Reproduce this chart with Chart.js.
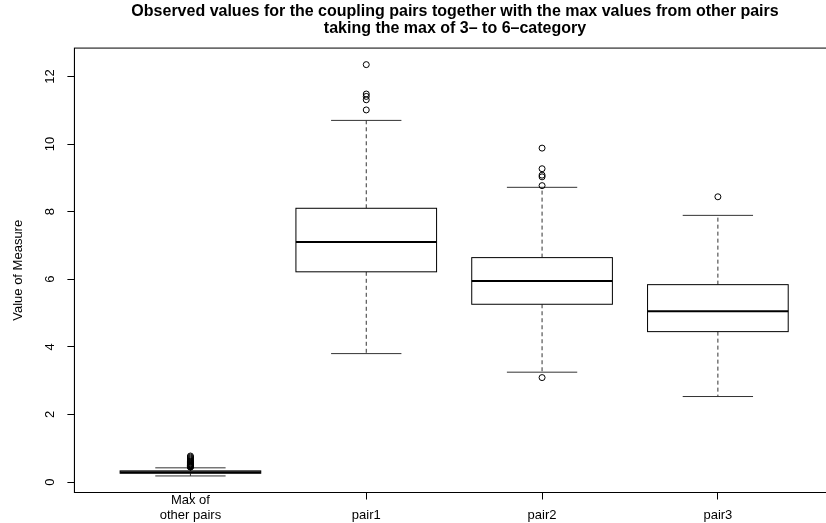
<!DOCTYPE html>
<html>
<head>
<meta charset="utf-8">
<script src="https://cdn.jsdelivr.net/npm/chart.js@4/dist/chart.umd.min.js"></script>
<style>
  html, body { margin: 0; padding: 0; background: #fff; overflow: hidden; }
  #wrap { width: 826px; height: 523px; overflow: hidden; }
</style>
</head>
<body>
<div id="wrap"><canvas id="c" width="910" height="523"></canvas></div>
<script>
// categories along the x axis
var categories = ['Max of\nother pairs', 'pair1', 'pair2', 'pair3'];

// five-number summaries
var lowerWhisker = [0.18, 3.80, 3.25, 2.53];
var q1           = [0.26, 6.22, 5.26, 4.45];
var median       = [0.29, 7.10, 5.95, 5.05];
var q3           = [0.33, 8.10, 6.64, 5.84];
var upperWhisker = [0.42, 10.70, 8.72, 7.89];

// outliers per category
var outliers = [
  [0.44, 0.45, 0.46, 0.47, 0.48, 0.49, 0.50, 0.51, 0.53, 0.54, 0.56, 0.58, 0.60, 0.62, 0.65, 0.68, 0.71, 0.74, 0.77],
  [12.35, 11.48, 11.41, 11.31, 11.01],
  [9.88, 9.27, 9.08, 9.03, 8.77, 3.09],
  [8.44]
];

var yTicks = [0, 2, 4, 6, 8, 10, 12];

var FONT = "'Liberation Sans', Arial, Helvetica, sans-serif";

var outlierPoints = [];
outliers.forEach(function (arr, i) {
  arr.forEach(function (v) { outlierPoints.push({ x: i + 1, y: v }); });
});

// draws boxes, whiskers and medians with the chart's scales
var boxPlugin = {
  id: 'boxes',
  beforeDatasetsDraw: function (chart) {
    var ctx = chart.ctx;
    var xs = chart.scales.x, ys = chart.scales.y;
    var boxHalf = xs.getPixelForValue(1.4) - xs.getPixelForValue(1);
    var capHalf = xs.getPixelForValue(1.2) - xs.getPixelForValue(1);
    ctx.save();
    ctx.strokeStyle = '#000';
    for (var i = 0; i < categories.length; i++) {
      var x = xs.getPixelForValue(i + 1);
      var yLo = ys.getPixelForValue(lowerWhisker[i]);
      var yQ1 = ys.getPixelForValue(q1[i]);
      var yMed = ys.getPixelForValue(median[i]);
      var yQ3 = ys.getPixelForValue(q3[i]);
      var yHi = ys.getPixelForValue(upperWhisker[i]);

      // whiskers
      ctx.lineWidth = 1;
      ctx.strokeStyle = '#333';
      ctx.setLineDash([4, 3]);
      ctx.beginPath();
      ctx.moveTo(x, yQ3); ctx.lineTo(x, yHi);
      ctx.moveTo(x, yQ1); ctx.lineTo(x, yLo);
      ctx.stroke();
      ctx.setLineDash([]);

      // caps
      ctx.beginPath();
      ctx.moveTo(x - capHalf, yHi); ctx.lineTo(x + capHalf, yHi);
      ctx.moveTo(x - capHalf, yLo); ctx.lineTo(x + capHalf, yLo);
      ctx.stroke();

      // box
      ctx.strokeStyle = '#000';
      ctx.fillStyle = '#fff';
      ctx.fillRect(x - boxHalf, yQ3, boxHalf * 2, yQ1 - yQ3);
      ctx.strokeRect(x - boxHalf, yQ3, boxHalf * 2, yQ1 - yQ3);

      // median
      ctx.lineWidth = 2;
      ctx.beginPath();
      ctx.moveTo(x - boxHalf, yMed); ctx.lineTo(x + boxHalf, yMed);
      ctx.stroke();
    }
    ctx.restore();
  },
  afterDraw: function (chart) {
    var a = chart.chartArea, ctx = chart.ctx;
    ctx.save();
    ctx.strokeStyle = '#000';
    ctx.lineWidth = 1;
    ctx.strokeRect(a.left, a.top, a.right - a.left, a.bottom - a.top);
    ctx.restore();
  }
};

new Chart(document.getElementById('c'), {
  type: 'scatter',
  data: {
    datasets: [{
      data: outlierPoints,
      pointStyle: 'circle',
      pointRadius: 3,
      pointHoverRadius: 3,
      borderWidth: 1,
      borderColor: '#000',
      backgroundColor: 'rgba(0,0,0,0)'
    }]
  },
  options: {
    responsive: false,
    animation: false,
    layout: { padding: 0 },
    plugins: {
      legend: { display: false },
      tooltip: { enabled: false },
      title: {
        display: true,
        text: ['Observed values for the coupling pairs together with the max values from other pairs',
               'taking the max of 3\u2013 to 6\u2013category'],
        color: '#000',
        font: { family: FONT, size: 16, weight: 'bold', lineHeight: 1.04 },
        padding: { top: 3.4, bottom: 11.4 }
      }
    },
    scales: {
      x: {
        type: 'linear',
        min: 0.34,
        max: 5.07,
        afterBuildTicks: function (scale) {
          scale.ticks = categories.map(function (c, i) { return { value: i + 1 }; });
        },
        afterFit: function (scale) { scale.height = 30.5; },
        grid: { drawOnChartArea: false, drawTicks: true, tickLength: 7, tickColor: '#000', tickWidth: 1 },
        border: { display: true, color: '#000', width: 1 },
        ticks: {
          color: '#000',
          padding: -7,
          maxRotation: 0,
          minRotation: 0,
          font: { family: FONT, size: 13, lineHeight: 1.154 },
          callback: function (value, index) {
            var lines = categories[index].split('\n');
            if (lines.length === 1) lines.unshift('');
            return lines;
          }
        }
      },
      y: {
        type: 'linear',
        min: -0.31,
        max: 12.84,
        afterBuildTicks: function (scale) {
          scale.ticks = yTicks.map(function (v) { return { value: v }; });
        },
        afterFit: function (scale) { scale.width = 74.4; },
        grid: { drawOnChartArea: false, drawTicks: true, tickLength: 7, tickColor: '#000', tickWidth: 1 },
        border: { display: true, color: '#000', width: 1 },
        title: {
          display: true,
          text: 'Value of Measure',
          color: '#000',
          font: { family: FONT, size: 13 },
          padding: { top: 10.2, bottom: 0 }
        },
        ticks: {
          color: '#000',
          padding: 10.2,
          crossAlign: 'center',
          minRotation: 90,
          maxRotation: 90,
          font: { family: FONT, size: 13 }
        }
      }
    }
  },
  plugins: [boxPlugin]
});
</script>
</body>
</html>
